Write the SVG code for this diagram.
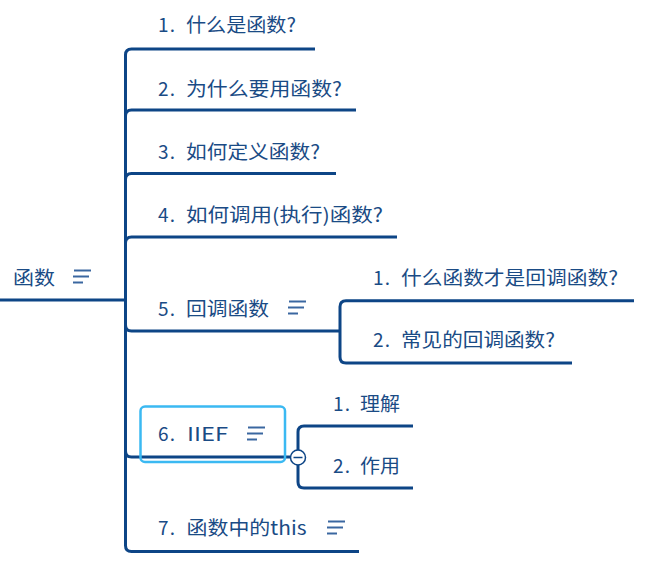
<svg xmlns="http://www.w3.org/2000/svg" width="650" height="564" viewBox="0 0 650 564">
  <style>
    .lbl { font-family: "Noto Sans CJK SC", "Noto Sans", sans-serif; font-size: 19px; fill: #1A4B85; }
    .conn { fill: none; stroke: #0D4586; stroke-width: 3; stroke-linecap: butt; }
    .note line { stroke: #3A67A0; stroke-width: 2; }
  </style>
  <defs>
    <g id="noteIcon" class="note">
      <line x1="1" y1="0" x2="18" y2="0"/>
      <line x1="0" y1="6" x2="16" y2="6"/>
      <line x1="0" y1="12" x2="10" y2="12"/>
    </g>
  </defs>
  <rect width="650" height="564" fill="#FFFFFF"/>

  <!-- connectors -->
  <g id="connectors">
    <path class="conn" d="M0,300 H125.5"/>
    <path class="conn" d="M125.5,300 V55 Q125.5,49 131.5,49 H315"/>
    <path class="conn" d="M125.5,300 V116 Q125.5,110 131.5,110 H356"/>
    <path class="conn" d="M125.5,300 V179.5 Q125.5,173.5 131.5,173.5 H336"/>
    <path class="conn" d="M125.5,300 V243 Q125.5,237 131.5,237 H397"/>
    <path class="conn" d="M125.5,300 V325 Q125.5,331 131.5,331 H340"/>
    <path class="conn" d="M125.5,300 V451 Q125.5,457 131.5,457 H298"/>
    <path class="conn" d="M125.5,300 V545.5 Q125.5,551.5 131.5,551.5 H359"/>
    <!-- 5. sub-branches -->
    <path class="conn" d="M340,331 V306.7 Q340,300.7 346,300.7 H634"/>
    <path class="conn" d="M340,331 V357 Q340,363 346,363 H572"/>
    <!-- 6. sub-branches -->
    <path class="conn" d="M298,457 V432 Q298,426 304,426 H413"/>
    <path class="conn" d="M298,457 V482 Q298,488 304,488 H413"/>
  </g>

  <g id="root">
    <text class="lbl" x="13" y="285" textLength="42" lengthAdjust="spacingAndGlyphs">函数</text>
    <use href="#noteIcon" x="73" y="270.5"/>
  </g>

  <g id="n1">
    <text class="lbl" x="158" y="32" textLength="17">1.</text>
    <text class="lbl" x="186" y="32" textLength="110" lengthAdjust="spacingAndGlyphs">什么是函数?</text>
  </g>
  <g id="n2">
    <text class="lbl" x="158" y="96" textLength="17">2.</text>
    <text class="lbl" x="186" y="96" textLength="156" lengthAdjust="spacingAndGlyphs">为什么要用函数?</text>
  </g>
  <g id="n3">
    <text class="lbl" x="158" y="159" textLength="17">3.</text>
    <text class="lbl" x="186" y="159" textLength="134" lengthAdjust="spacingAndGlyphs">如何定义函数?</text>
  </g>
  <g id="n4">
    <text class="lbl" x="158" y="222" textLength="17">4.</text>
    <text class="lbl" x="186" y="222" textLength="197" lengthAdjust="spacingAndGlyphs">如何调用(执行)函数?</text>
  </g>
  <g id="n5">
    <text class="lbl" x="158" y="316" textLength="17">5.</text>
    <text class="lbl" x="186" y="316" textLength="83" lengthAdjust="spacingAndGlyphs">回调函数</text>
    <use href="#noteIcon" x="288" y="301.5"/>
  </g>
  <g id="n5-1">
    <text class="lbl" x="373" y="285" textLength="17">1.</text>
    <text class="lbl" x="401" y="285" textLength="217" lengthAdjust="spacingAndGlyphs">什么函数才是回调函数?</text>
  </g>
  <g id="n5-2">
    <text class="lbl" x="373" y="347" textLength="17">2.</text>
    <text class="lbl" x="401" y="347" textLength="154" lengthAdjust="spacingAndGlyphs">常见的回调函数?</text>
  </g>
  <g id="n6">
    <rect x="140.5" y="406.5" width="144.5" height="55.5" rx="4.5" fill="none" stroke="#3BB9F2" stroke-width="2.5"/>
    <text class="lbl" x="158" y="441" textLength="17">6.</text>
    <text class="lbl" x="187" y="441" textLength="41" lengthAdjust="spacingAndGlyphs">IIEF</text>
    <use href="#noteIcon" x="247" y="427.5"/>
    <circle cx="298" cy="457.5" r="7.5" fill="#FFFFFF" stroke="#0D4586" stroke-width="1.5"/>
    <line x1="293.5" y1="457.5" x2="302.5" y2="457.5" stroke="#0D4586" stroke-width="1.5"/>
  </g>
  <g id="n6-1">
    <text class="lbl" x="333" y="411" textLength="17">1.</text>
    <text class="lbl" x="360" y="411" textLength="40" lengthAdjust="spacingAndGlyphs">理解</text>
  </g>
  <g id="n6-2">
    <text class="lbl" x="333" y="473" textLength="17">2.</text>
    <text class="lbl" x="360" y="473" textLength="40" lengthAdjust="spacingAndGlyphs">作用</text>
  </g>
  <g id="n7">
    <text class="lbl" x="158" y="535" textLength="17">7.</text>
    <text class="lbl" x="186.5" y="535" textLength="120" lengthAdjust="spacingAndGlyphs">函数中的this</text>
    <use href="#noteIcon" x="327" y="521.5"/>
  </g>
</svg>
